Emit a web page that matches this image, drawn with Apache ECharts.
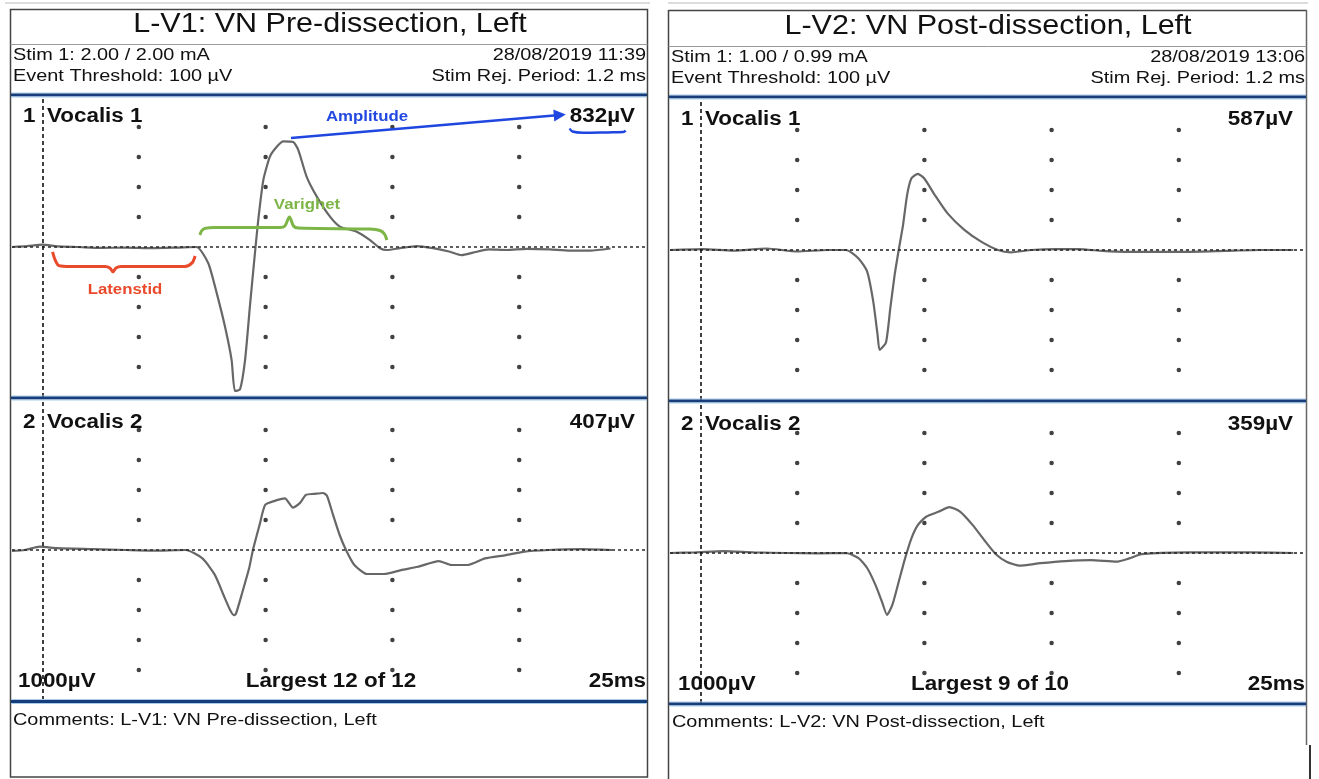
<!DOCTYPE html>
<html>
<head>
<meta charset="utf-8">
<script src="https://cdn.jsdelivr.net/npm/echarts@6/dist/echarts.min.js"></script>
<style>
  html, body { margin: 0; padding: 0; background: #ffffff; }
  #chart { width: 1319px; height: 779px; }
</style>
</head>
<body>
<div id="chart"></div>
<script>
// ---- Recording data: time in ms, amplitude in µV ----
// L-V1 (pre-dissection), channel 1
const l1Time = [0, 0.6, 1.2, 1.8, 2.6, 3.5, 4.5, 5.5, 6.5, 7.28, 7.74, 8.07, 8.40, 8.66, 8.79, 8.99, 9.19, 9.38, 9.58, 9.71, 9.91, 10.17, 10.44, 10.70, 11.09, 11.29, 11.62, 12.02, 12.54, 12.93, 13.59, 14.12, 14.51, 14.78, 15.30, 15.96, 16.60, 17.27, 17.73, 18.18, 18.8, 19.5, 20.3, 21.2, 22.0, 22.8, 23.6];
const l1Value = [0, 3, 8, 2, 0, -3, -2, -4, -2, 0, -54, -153, -266, -377, -480, -475, -377, -199, -20, 90, 223, 301, 334, 352, 350, 323, 234, 168, 101, 68, 51, 23, -4, -10, -4, 3, -4, -16, -27, -19, -8, -10, -6, -8, -12, -12, -5];

// L-V1, channel 2
const l2Time = [0, 0.5, 1.1, 1.8, 3.2, 4.5, 5.5, 6.85, 7.51, 8.00, 8.34, 8.60, 8.75, 8.83, 9.09, 9.35, 9.50, 9.76, 9.98, 10.33, 10.76, 11.08, 11.36, 11.59, 11.91, 12.26, 12.42, 12.66, 12.92, 13.17, 13.50, 14.00, 14.67, 15.34, 16.00, 16.83, 17.33, 17.98, 18.65, 19.48, 20.15, 21.16, 22.48, 23.66];
const l2Value = [-3, 0, 11, 6, 3, 0, -2, 0, -28, -83, -150, -200, -217, -213, -139, -61, 0, 83, 150, 163, 172, 141, 157, 184, 187, 190, 181, 117, 50, 0, -50, -80, -80, -67, -56, -37, -50, -50, -28, -17, -6, 0, 3, 0];

// L-V2 (post-dissection), channel 1
const r1Time = [0, 1.3, 2.5, 3.8, 5.0, 6.2, 6.92, 7.41, 7.75, 7.99, 8.16, 8.24, 8.49, 8.66, 8.83, 8.99, 9.16, 9.32, 9.49, 9.74, 9.99, 10.41, 10.91, 11.57, 12.23, 12.89, 13.39, 14.21, 15.2, 16.05, 17.0, 17.87, 19.0, 20.37, 21.8, 23.19, 24.5];
const r1Value = [0, 3, -2, 5, -5, 0, 0, -28, -72, -172, -283, -333, -308, -194, -83, 0, 83, 183, 239, 254, 239, 183, 122, 67, 28, 0, -8, 0, 3, 3, -3, -6, -6, -6, -3, 0, 0];

// L-V2, channel 2
const r2Time = [0, 1.0, 2.1, 3.3, 4.59, 5.8, 6.92, 7.41, 7.75, 8.08, 8.33, 8.53, 8.74, 8.99, 9.24, 9.49, 9.74, 10.07, 10.57, 10.98, 11.40, 11.90, 12.40, 12.81, 13.23, 13.72, 14.56, 15.55, 16.55, 17.55, 18.05, 18.54, 20.37, 22.86, 24.5];
const r2Value = [0, 2, 6, 2, 0, -1, 0, -17, -50, -107, -162, -206, -173, -96, -18, 49, 93, 121, 138, 153, 138, 93, 38, -4, -29, -42, -34, -27, -24, -29, -18, -4, 2, 2, 0];

// Display grid: 5 ms per division, 100 µV per division
const gridTimes = [5, 10, 15, 20];
const gridLevels = [-400, -300, -200, -100, 100, 200, 300, 400];
const sweepMs = 25;
const rangeUv = 500;
const stimRejMs = 1.2;

// Annotation shapes on channel 1 of L-V1 (ms, µV)
const latencyBraceT = [1.60, 1.70, 1.85, 2.29, 3.67, 3.86, 3.98, 4.10, 4.30, 6.82, 7.10, 7.22];
const latencyBraceV = [-16, -43, -62, -65, -65, -70, -83, -70, -65, -65, -53, -30];
const durationBraceT = [7.41, 7.47, 7.61, 8.0, 10.57, 10.76, 10.94, 11.10, 11.28, 14.12, 14.51, 14.69, 14.78];
const durationBraceV = [40, 53, 62, 65, 65, 70, 100, 70, 63, 60, 55, 43, 23];
const amplitudeArrowFrom = [11.0, 363];
const amplitudeArrowTo = [21.6, 440];
const underlineT = [21.99, 22.1, 22.5, 23.5, 24.1, 24.2];
const underlineV = [395, 385, 381, 382, 383, 388];

const zip = (a, b) => a.map((t, i) => [t, b[i]]);
const ampLabel = (v) => Math.round(Math.max(...v) - Math.min(...v)) + 'µV';

const FONT = "'Liberation Sans', Arial, Helvetica, sans-serif";

const panels = [
  { left: 12, top: 97, width: 634, t: l1Time, v: l1Value },
  { left: 12, top: 400, width: 634, t: l2Time, v: l2Value },
  { left: 670, top: 100, width: 636, t: r1Time, v: r1Value },
  { left: 670, top: 403, width: 636, t: r2Time, v: r2Value }
];

const dots = [];
gridTimes.forEach(t => gridLevels.forEach(v => dots.push([t, v])));

const grid = [], xAxis = [], yAxis = [], series = [];
panels.forEach((p, i) => {
  grid.push({ left: p.left, top: p.top, width: p.width, height: 300, containLabel: false });
  xAxis.push({ type: 'value', gridIndex: i, min: 0, max: sweepMs, show: false });
  yAxis.push({ type: 'value', gridIndex: i, min: -rangeUv, max: rangeUv, show: false });
  series.push({
    type: 'scatter', xAxisIndex: i, yAxisIndex: i, data: dots,
    symbol: 'circle', symbolSize: 4.5, itemStyle: { color: '#111' }, silent: true, z: 2
  });
  series.push({
    type: 'line', xAxisIndex: i, yAxisIndex: i, data: zip(p.t, p.v),
    showSymbol: false, smooth: 0.2, lineStyle: { color: '#676767', width: 2.2 }, z: 3, silent: true,
    markLine: {
      silent: true, symbol: ['none', 'none'], label: { show: false },
      data: [
        { yAxis: 0, lineStyle: { type: [3, 3], color: '#2a2a2a', width: 1.6 } },
        { xAxis: stimRejMs, lineStyle: { type: [4, 3], color: '#111', width: 1.6 } }
      ]
    }
  });
});

// Annotations on the first channel
series.push({
  type: 'line', xAxisIndex: 0, yAxisIndex: 0, data: zip(latencyBraceT, latencyBraceV),
  showSymbol: false, smooth: 0.3, lineStyle: { color: '#ea4a2c', width: 3 }, z: 5, silent: true
});
series.push({
  type: 'line', xAxisIndex: 0, yAxisIndex: 0, data: zip(durationBraceT, durationBraceV),
  showSymbol: false, smooth: 0.3, lineStyle: { color: '#7db546', width: 3 }, z: 5, silent: true
});
series.push({
  type: 'line', xAxisIndex: 0, yAxisIndex: 0, data: zip(underlineT, underlineV),
  showSymbol: false, smooth: 0.4, lineStyle: { color: '#1f47e0', width: 2.5 }, z: 5, silent: true,
  markLine: {
    silent: true, symbol: ['none', 'triangle'], symbolSize: 12, label: { show: false },
    lineStyle: { color: '#1f47e0', width: 2.5, type: 'solid' },
    data: [[{ coord: amplitudeArrowFrom }, { coord: amplitudeArrowTo }]]
  }
});

// ---- frames and text ----
const g = [];
function line(x1, y1, x2, y2, stroke, w) {
  g.push({ type: 'line', shape: { x1, y1, x2, y2 }, style: { stroke, lineWidth: w }, silent: true, z: 10 });
}
function bar(x1, x2, y) {
  line(x1, y - 2, x2, y - 2, '#a8cdea', 1);
  g.push({ type: 'rect', shape: { x: x1, y: y - 1.5, width: x2 - x1, height: 3 }, style: { fill: '#173e7a' }, silent: true, z: 10 });
  line(x1, y + 2, x2, y + 2, '#a8cdea', 1);
}
function txt(x, y, text, size, sx, opt) {
  opt = opt || {};
  g.push({
    type: 'text', x, y, scaleX: sx, silent: true, z: 20,
    style: {
      text, fill: opt.color || '#111',
      font: (opt.bold ? 'bold ' : '') + size + 'px ' + FONT,
      textAlign: opt.align || 'left', textVerticalAlign: 'middle'
    }
  });
}

// font presets: [size, horizontal scale]
const TITLE = [28, 1.09];
const SMALL = [17, 1.17];
const LABEL = [20, 1.12];
const NOTE = [15, 1.12];

function t(x, y, text, preset, opt) { txt(x, y, text, preset[0], preset[1], opt); }

// page edge
line(5, 3, 650, 3, '#dcdcdc', 2);
line(668, 3, 1308, 3, '#dcdcdc', 2);

// left sheet
g.push({ type: 'rect', shape: { x: 10.5, y: 9.5, width: 637, height: 767.5 }, style: { fill: 'none', stroke: '#444', lineWidth: 1.5 }, silent: true, z: 10 });
line(10.5, 44.5, 647.5, 44.5, '#9a9a9a', 1);
bar(11, 647, 95);
bar(11, 647, 398);
bar(11, 647, 701.5);

// right sheet
line(668.5, 10, 668.5, 779, '#444', 1.5);
line(668.5, 10.5, 1307, 10.5, '#444', 1.5);
line(1306.5, 10, 1306.5, 745, '#666', 1.5);
line(1310, 745, 1310, 779, '#333', 2);
line(668.5, 46.5, 1306.5, 46.5, '#9a9a9a', 1);
bar(669, 1306, 97);
bar(669, 1306, 401);
bar(669, 1306, 704);

// left sheet text
t(330, 24, 'L-V1: VN Pre-dissection, Left', TITLE, { align: 'center' });
t(13, 55, 'Stim 1: 2.00 / 2.00 mA', SMALL);
t(646, 55, '28/08/2019 11:39', SMALL, { align: 'right' });
t(13, 76, 'Event Threshold: 100 µV', SMALL);
t(646, 76, 'Stim Rej. Period: 1.2 ms', SMALL, { align: 'right' });
t(23, 116, '1', LABEL, { bold: true });
t(47, 116, 'Vocalis 1', LABEL, { bold: true });
t(635, 116, ampLabel(l1Value), LABEL, { bold: true, align: 'right' });
t(23, 422, '2', LABEL, { bold: true });
t(47, 422, 'Vocalis 2', LABEL, { bold: true });
t(635, 422, ampLabel(l2Value), LABEL, { bold: true, align: 'right' });
t(18, 681, '1000µV', LABEL, { bold: true });
t(331, 681, 'Largest 12 of 12', LABEL, { bold: true, align: 'center' });
t(646, 681, '25ms', LABEL, { bold: true, align: 'right' });
t(13, 720, 'Comments: L-V1: VN Pre-dissection, Left', SMALL);

// annotation labels
t(367, 117, 'Amplitude', NOTE, { bold: true, color: '#2148e0', align: 'center' });
t(307, 205, 'Varighet', NOTE, { bold: true, color: '#7db546', align: 'center' });
t(125, 290, 'Latenstid', NOTE, { bold: true, color: '#ea4a2c', align: 'center' });

// right sheet text
t(988, 26, 'L-V2: VN Post-dissection, Left', TITLE, { align: 'center' });
t(671, 57, 'Stim 1: 1.00 / 0.99 mA', SMALL);
t(1305, 57, '28/08/2019 13:06', SMALL, { align: 'right' });
t(671, 78, 'Event Threshold: 100 µV', SMALL);
t(1305, 78, 'Stim Rej. Period: 1.2 ms', SMALL, { align: 'right' });
t(681, 119, '1', LABEL, { bold: true });
t(705, 119, 'Vocalis 1', LABEL, { bold: true });
t(1293, 119, ampLabel(r1Value), LABEL, { bold: true, align: 'right' });
t(681, 424, '2', LABEL, { bold: true });
t(705, 424, 'Vocalis 2', LABEL, { bold: true });
t(1293, 424, ampLabel(r2Value), LABEL, { bold: true, align: 'right' });
t(678, 684, '1000µV', LABEL, { bold: true });
t(990, 684, 'Largest 9 of 10', LABEL, { bold: true, align: 'center' });
t(1305, 684, '25ms', LABEL, { bold: true, align: 'right' });
t(672, 722, 'Comments: L-V2: VN Post-dissection, Left', SMALL);

const chart = echarts.init(document.getElementById('chart'));
chart.setOption({
  animation: false,
  backgroundColor: '#ffffff',
  grid, xAxis, yAxis, series,
  graphic: { elements: g }
});
</script>
</body>
</html>
